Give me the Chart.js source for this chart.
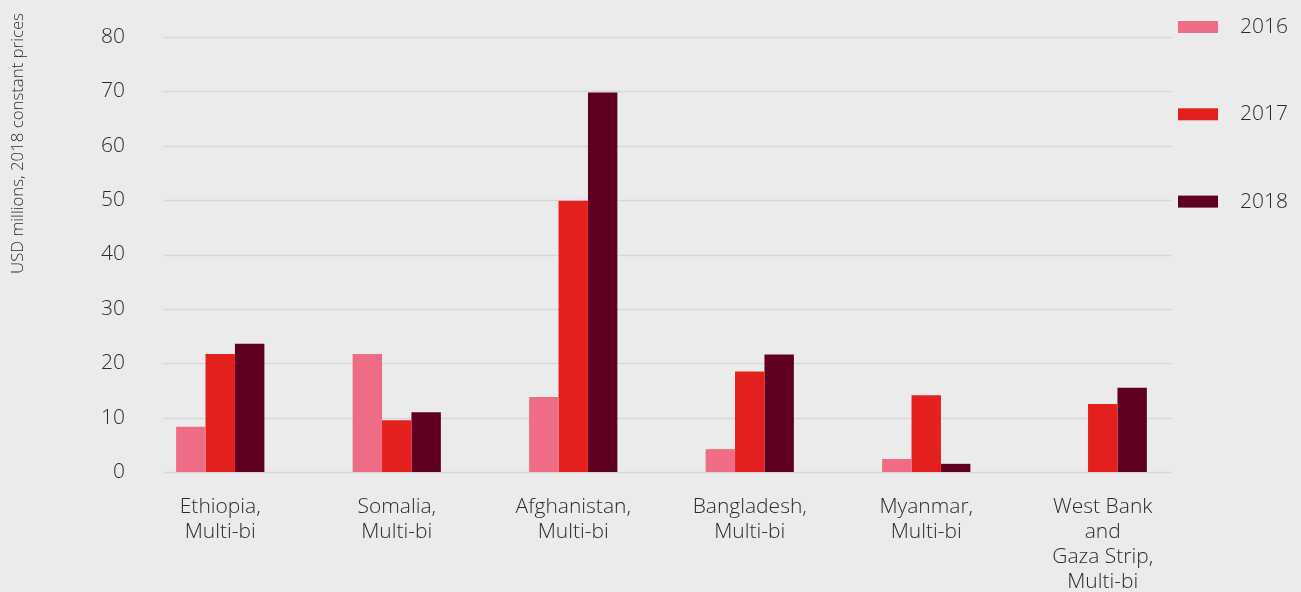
<!DOCTYPE html>
<html>
<head>
    <title>Multi-bi funding by recipient</title>
    <script src="https://cdn.jsdelivr.net/npm/chart.js"></script>
    <style>
        html, body { margin: 0; padding: 0; background: #ebebeb; }
        #wrap { width: 1301px; height: 592px; }
    </style>
</head>
<body>
    <div id="wrap">
        <canvas id="barChart" width="1301" height="592"></canvas>
    </div>

    <script>
        // 数据
        const categories = [
            ['Ethiopia,', 'Multi-bi'],
            ['Somalia,', 'Multi-bi'],
            ['Afghanistan,', 'Multi-bi'],
            ['Bangladesh,', 'Multi-bi'],
            ['Myanmar,', 'Multi-bi'],
            ['West Bank', 'and', 'Gaza Strip,', 'Multi-bi']
        ];
        const seriesNames = ['2016', '2017', '2018'];
        const values2016 = [8.3, 21.7, 13.8, 4.2, 2.4, null];
        const values2017 = [21.7, 9.5, 49.9, 18.5, 14.1, 12.5];
        const values2018 = [23.6, 11.0, 69.8, 21.6, 1.5, 15.5];
        const yTicks = [0, 10, 20, 30, 40, 50, 60, 70, 80];

        const colors = ['#ee6c85', '#e4201f', '#5f0020'];
        const textColor = '#2b2b2b';
        const fontFamily = "'Open Sans', 'Noto Sans', sans-serif";

        // 网格线（只画在中间一段）
        const gridPlugin = {
            id: 'shortGrid',
            beforeDatasetsDraw(chart) {
                const ctx = chart.ctx;
                const y = chart.scales.y;
                ctx.save();
                ctx.strokeStyle = '#d8d8d8';
                ctx.lineWidth = 1.5;
                y.ticks.forEach(t => {
                    const py = Math.round(y.getPixelForValue(t.value)) + 0.5;
                    ctx.beginPath();
                    ctx.moveTo(163, py);
                    ctx.lineTo(1172, py);
                    ctx.stroke();
                });
                ctx.restore();
            }
        };

        // y轴标题和右侧图例
        const extrasPlugin = {
            id: 'extras',
            afterDraw(chart) {
                const ctx = chart.ctx;
                ctx.save();
                ctx.fillStyle = textColor;
                ctx.font = '300 16.8px ' + fontFamily;
                ctx.translate(18, 143.5);
                ctx.rotate(-Math.PI / 2);
                ctx.textAlign = 'center';
                ctx.textBaseline = 'middle';
                ctx.fillText('USD millions, 2018 constant prices', 0, 0);
                ctx.restore();

                ctx.save();
                ctx.font = '300 21px ' + fontFamily;
                ctx.textBaseline = 'middle';
                chart.data.datasets.forEach((ds, i) => {
                    const top = 21 + i * 87.3;
                    ctx.fillStyle = ds.backgroundColor;
                    ctx.fillRect(1178, top, 40, 12);
                    ctx.fillStyle = textColor;
                    ctx.fillText(ds.label, 1240, top + 6);
                });
                ctx.restore();
            }
        };

        const seriesValues = [values2016, values2017, values2018];

        new Chart(document.getElementById('barChart').getContext('2d'), {
            type: 'bar',
            data: {
                labels: categories,
                datasets: seriesNames.map((name, i) => ({
                    label: name,
                    data: seriesValues[i],
                    backgroundColor: colors[i],
                    borderWidth: 0,
                    categoryPercentage: 0.5,
                    barPercentage: 1.0
                }))
            },
            options: {
                responsive: false,
                animation: false,
                layout: { padding: { top: 37, right: 110, bottom: 0, left: 0 } },
                plugins: {
                    legend: { display: false },
                    tooltip: { enabled: false }
                },
                scales: {
                    x: {
                        grid: { display: false, drawTicks: false },
                        border: { display: false },
                        ticks: {
                            color: textColor,
                            font: { family: fontFamily, size: 21, weight: 300, lineHeight: 1.2 },
                            padding: 22,
                            maxRotation: 0,
                            autoSkip: false
                        },
                        afterFit(scale) { scale.height = 120; }
                    },
                    y: {
                        min: 0,
                        max: 80,
                        afterBuildTicks(scale) { scale.ticks = yTicks.map(v => ({ value: v })); },
                        grid: { display: false, drawTicks: false },
                        border: { display: false },
                        ticks: {
                            color: textColor,
                            font: { family: fontFamily, size: 21, weight: 300 },
                            padding: 7
                        },
                        afterFit(scale) { scale.width = 132; }
                    }
                }
            },
            plugins: [gridPlugin, extrasPlugin]
        });
    </script>
</body>
</html>
